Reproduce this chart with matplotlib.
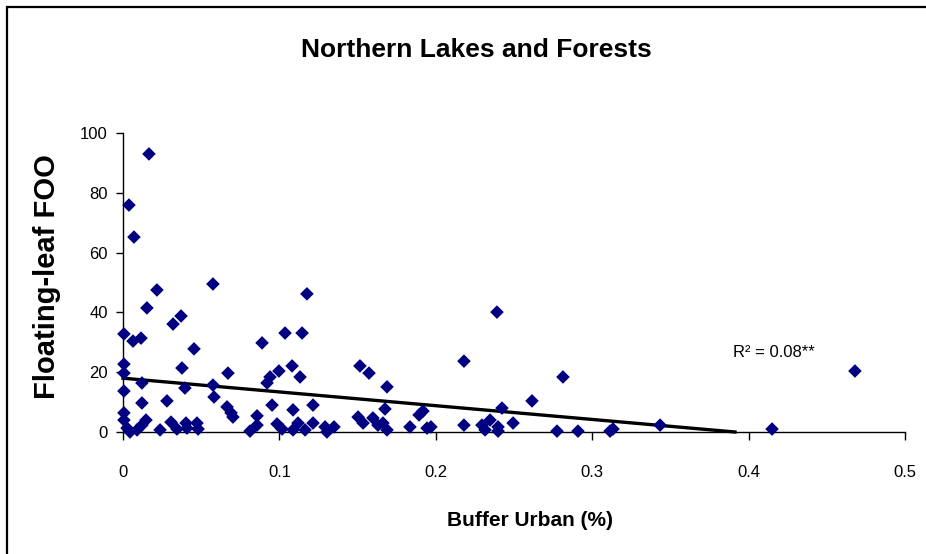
import numpy as np
import matplotlib
matplotlib.use("Agg")
import matplotlib.pyplot as plt
from matplotlib.patches import Rectangle

# Buffer urban fraction and floating-leaf frequency of occurrence per lake
buffer_urban = [
    0.0166, 0.0038, 0.0070, 0.0217, 0.0575, 0.1176, 0.0153, 0.2391,
    0.0006, 0.0064, 0.0115, 0.0320, 0.0371, 0.0454, 0.0006, 0.0006,
    0.0377, 0.0671, 0.0121, 0.0396, 0.0575, 0.0582, 0.0006, 0.0121,
    0.0281, 0.0665, 0.0691, 0.0703, 0.0006, 0.0006, 0.0026, 0.0045,
    0.0090, 0.0121, 0.0147, 0.0237, 0.0307, 0.0345, 0.0403, 0.0409,
    0.0473, 0.0480, 0.0889, 0.1036, 0.1145, 0.1081, 0.0997, 0.0940,
    0.0921, 0.1132, 0.1515, 0.1573, 0.1688, 0.0953, 0.1087, 0.1215,
    0.0857, 0.0857, 0.0812, 0.0985, 0.1017, 0.1087, 0.1119, 0.1164,
    0.1215, 0.1292, 0.1304, 0.1349, 0.1503, 0.1535, 0.1598, 0.1630,
    0.1675, 0.1662, 0.1688, 0.1835, 0.1893, 0.1918, 0.1944, 0.1969,
    0.2180, 0.2180, 0.2295, 0.2347, 0.2315, 0.2398, 0.2398, 0.2423,
    0.2494, 0.2615, 0.2813, 0.2775, 0.2909, 0.3114, 0.3133, 0.3434,
    0.4150, 0.4680,
]
floating_leaf_foo = [
    93.0, 75.9, 65.2, 47.5, 49.5, 46.2, 41.5, 40.1,
    32.8, 30.4, 31.4, 36.1, 38.8, 27.8, 22.7, 19.7,
    21.4, 19.7, 16.4, 14.7, 15.7, 11.7, 13.7, 9.7,
    10.4, 8.4, 6.4, 5.0, 6.4, 4.0, 1.3, 0.0,
    0.7, 2.3, 4.0, 0.7, 3.3, 1.0, 3.0, 1.3,
    3.0, 1.0, 29.8, 33.1, 33.1, 22.1, 20.4, 18.4,
    16.4, 18.4, 22.1, 19.7, 15.1, 9.0, 7.4, 9.0,
    5.4, 2.3, 0.3, 2.7, 1.0, 0.7, 3.0, 0.7,
    3.0, 1.7, 0.0, 1.7, 5.0, 3.0, 4.7, 2.3,
    7.7, 3.0, 0.7, 1.7, 5.7, 7.0, 1.3, 1.7,
    23.7, 2.3, 2.3, 4.0, 0.7, 1.7, 0.3, 8.0,
    3.0, 10.4, 18.4, 0.3, 0.3, 0.3, 1.0, 2.3,
    1.0, 20.4,
]

# Linear trend (floored at zero)
trend_intercept = 18.0
trend_slope = -46.0

x_ticks = [0, 0.1, 0.2, 0.3, 0.4, 0.5]
x_tick_labels = ["0", "0.1", "0.2", "0.3", "0.4", "0.5"]
y_ticks = [0, 20, 40, 60, 80, 100]
y_tick_labels = ["0", "20", "40", "60", "80", "100"]

title_text = "Northern Lakes and Forests"
x_label = "Buffer Urban (%)"
y_label = "Floating-leaf FOO"
r2_text = "R\u00b2 = 0.08**"

plt.rcParams["font.family"] = ["Liberation Sans", "DejaVu Sans"]

W, H = 926, 554
fig = plt.figure(figsize=(W / 100, H / 100), dpi=100)
fig.patch.set_facecolor("white")

ax = fig.add_axes([123 / W, 1 - 432 / H, (905 - 123) / W, (432 - 133) / H])
ax.set_xlim(0, 0.5)
ax.set_ylim(0, 100)

# trend line
x_end = -trend_intercept / trend_slope
xs = np.linspace(0, x_end, 50)
ax.plot(xs, np.maximum(trend_intercept + trend_slope * xs, 0),
        color="black", lw=2.4, zorder=2, clip_on=False)

ax.scatter(buffer_urban, floating_leaf_foo, marker="D", s=48,
           color="#000080", edgecolors="none", zorder=3, clip_on=False)

for s in ["top", "right"]:
    ax.spines[s].set_visible(False)
for s in ["left", "bottom"]:
    ax.spines[s].set_linewidth(1.0)
    ax.spines[s].set_color("black")

ax.set_xticks(x_ticks)
ax.set_xticklabels(x_tick_labels)
ax.set_yticks(y_ticks)
ax.set_yticklabels(y_tick_labels)
ax.tick_params(axis="x", direction="out", length=6, width=1, pad=18, labelsize=12)
ax.tick_params(axis="y", direction="out", length=5, width=1, pad=6, labelsize=12)

ax.text(0.39, 26.5, r2_text, fontsize=12, va="center", ha="left")

fig.text(476 / W, 1 - 50 / H, title_text, ha="center", va="center",
         fontsize=19, fontweight="bold")
fig.text(530 / W, 1 - 521 / H, x_label, ha="center", va="center",
         fontsize=15, fontweight="bold")
fig.text(47 / W, 1 - 277 / H, y_label, ha="center", va="center",
         rotation=90, fontsize=21, fontweight="bold")

# chart area border (extends past the right and bottom edges)
fig.patches.append(Rectangle((7 / W, -0.5), 1.2, 1.5 - 7 / H,
                             transform=fig.transFigure, fill=False,
                             edgecolor="black", lw=1.6, zorder=10))

fig.savefig("out.png", dpi=100, facecolor="white")
